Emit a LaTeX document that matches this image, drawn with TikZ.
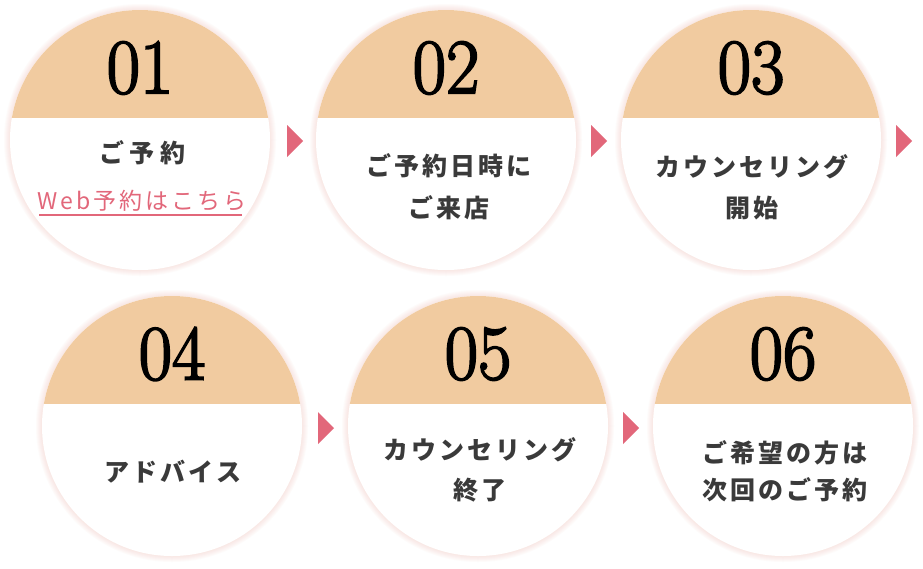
\documentclass[tikz,border=0pt]{standalone}
\usepackage{fontspec}
\newfontfamily\jp[LetterSpace=12]{Noto Sans CJK JP}
\newfontfamily\jpwide[LetterSpace=22]{Noto Sans CJK JP}
\newfontfamily\jpweb[LetterSpace=13]{Noto Sans CJK JP}
\newfontfamily\numf[FakeBold=2.6]{Latin Modern Roman}
\definecolor{beige}{HTML}{F1CBA0}
\definecolor{txtc}{HTML}{3A3A3A}
\definecolor{pinkc}{HTML}{E2677A}
\definecolor{glowc}{HTML}{F4BDB6}
\tikzset{
  numtxt/.style={inner sep=0pt, font=\numf\fontsize{78}{78}\selectfont, xscale=0.93, text=black},
  jptxt/.style={inner sep=0pt, font=\jp\bfseries\fontsize{25}{25}\selectfont, text=txtc},
  jpwidetxt/.style={inner sep=0pt, font=\jpwide\bfseries\fontsize{25}{25}\selectfont, text=txtc},
  weblink/.style={inner sep=0pt, font=\jpweb\fontsize{23}{23}\selectfont, text=pinkc},
  arrowtri/.style={fill=pinkc, draw=none},
}
\newcommand\drawstep[4]{%
  \begin{scope}[shift={(#2,#3)}]
    \foreach \k in {1,...,6} {\fill[glowc, opacity=0.06] (0,0) circle (130+\k);}
    \fill[white] (0,0) circle (130);
    \begin{scope}
      \clip (0,0) circle (130);
      \fill[beige] (-131,-131) rectangle (131,-22);
    \end{scope}
    \node[numtxt] (#1num) at (0,-72) {#4};
  \end{scope}
}
\begin{document}
\begin{tikzpicture}[x=1pt,y=-1pt]
  \useasboundingbox (0,0) rectangle (923,568);
  \fill[white] (0,0) rectangle (923,568);
  % circles
  \drawstep{s1}{140}{140}{01}
  \drawstep{s2}{446}{140}{02}
  \drawstep{s3}{751}{140}{03}
  \drawstep{s4}{172}{426}{04}
  \drawstep{s5}{478}{426}{05}
  \drawstep{s6}{783}{426}{06}
  % texts
  \node[jpwidetxt] (t1) at (142,153) {ご予約};
  \node[weblink] (w1) at (142,201) {Web予約はこちら};
  \coordinate (u1) at (39,215);
  \coordinate (u2) at (242,215);
  \draw[pinkc, line width=1.3pt] (u1) -- (u2);
  \node[jptxt] (t2a) at (449,166) {ご予約日時に};
  \node[jptxt] (t2b) at (449,208) {ご来店};
  \node[jptxt] (t3a) at (752,167) {カウンセリング};
  \node[jptxt] (t3b) at (752,208) {開始};
  \node[jptxt] (t4) at (173,472) {アドバイス};
  \node[jptxt] (t5a) at (480,450) {カウンセリング};
  \node[jptxt] (t5b) at (480,490) {終了};
  \node[jptxt] (t6a) at (785,453) {ご希望の方は};
  \node[jptxt] (t6b) at (785,490) {次回のご予約};
  % arrows
  \fill[arrowtri] (287,125) -- (303,141) -- (287,157) -- cycle;
  \fill[arrowtri] (591,125) -- (607,141) -- (591,157) -- cycle;
  \fill[arrowtri] (896,125) -- (912,141) -- (896,157) -- cycle;
  \fill[arrowtri] (318,412) -- (334,428) -- (318,444) -- cycle;
  \fill[arrowtri] (623,412) -- (639,428) -- (623,444) -- cycle;
\end{tikzpicture}
\end{document}
